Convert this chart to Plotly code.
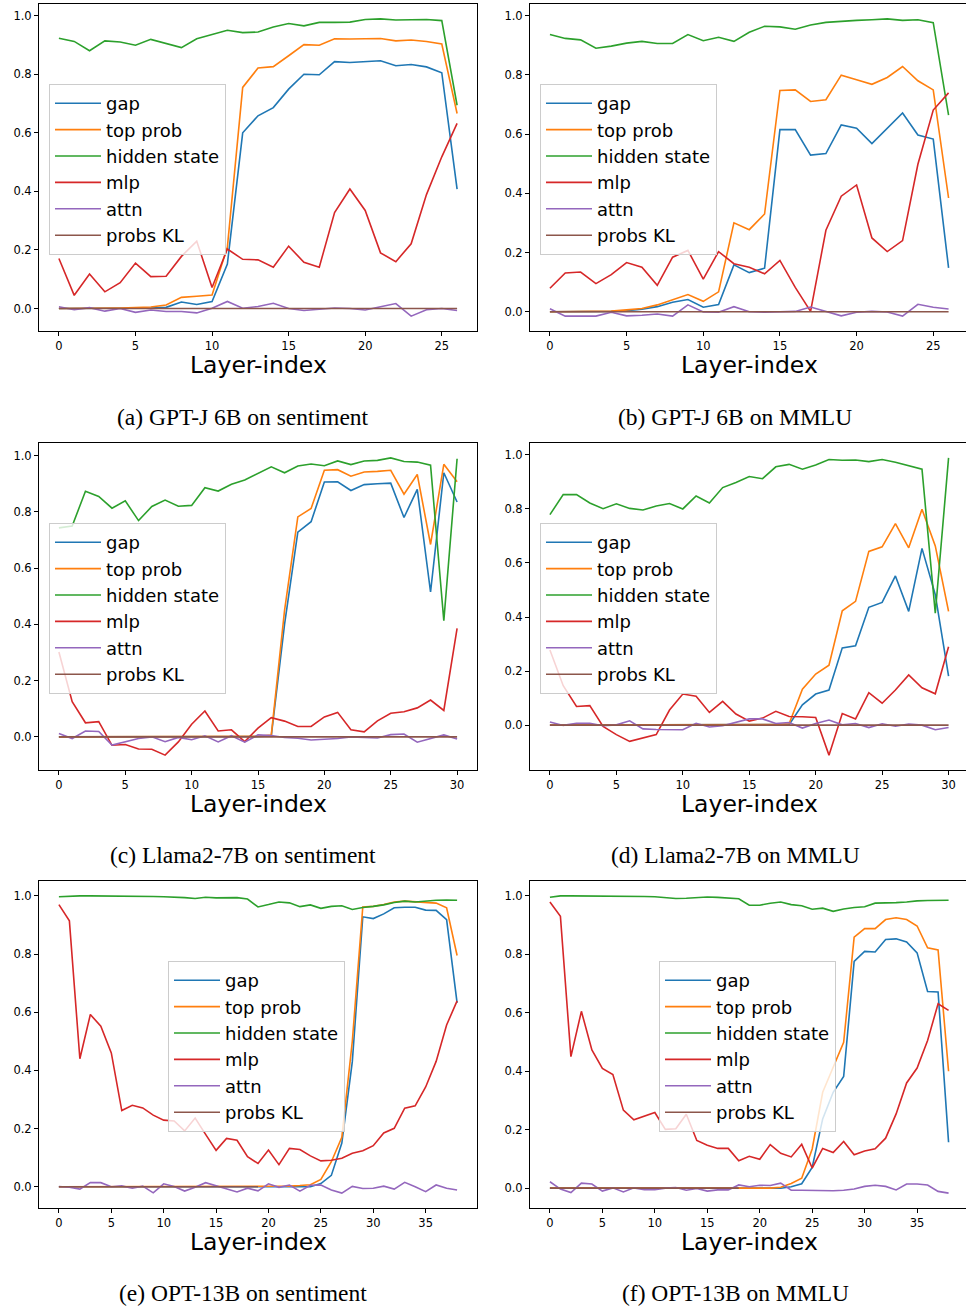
import plotly.graph_objects as go

# ---------------- data ----------------
series_names = ["gap", "top prob", "hidden state", "mlp", "attn", "probs KL"]
series_colors = ["#1f77b4", "#ff7f0e", "#2ca02c", "#d62728", "#9467bd", "#8c564b"]
captions = ["(a) GPT-J 6B on sentiment", "(b) GPT-J 6B on MMLU",
            "(c) Llama2-7B on sentiment", "(d) Llama2-7B on MMLU",
            "(e) OPT-13B on sentiment", "(f) OPT-13B on MMLU"]
x_label = "Layer-index"

# (a) GPT-J 6B on sentiment, layers 0..26
a_gap = [0.0, 0.0, 0.0, 0.0, 0.0, 0.001, 0.002, 0.004, 0.022, 0.014, 0.024, 0.152, 0.600, 0.658, 0.686,
         0.749, 0.800, 0.798, 0.843, 0.840, 0.842, 0.846, 0.829, 0.833, 0.825, 0.805, 0.408]
a_top = [0.0, 0.0, 0.0, 0.001, 0.002, 0.003, 0.005, 0.012, 0.038, 0.042, 0.046, 0.21, 0.755, 0.821, 0.826,
         0.863, 0.901, 0.899, 0.921, 0.920, 0.921, 0.922, 0.914, 0.917, 0.912, 0.903, 0.666]
a_hidden = [0.923, 0.912, 0.880, 0.914, 0.910, 0.899, 0.919, 0.906, 0.891, 0.921, 0.936, 0.950, 0.942, 0.944,
            0.961, 0.973, 0.965, 0.977, 0.977, 0.978, 0.987, 0.989, 0.985, 0.986, 0.987, 0.983, 0.694]
a_mlp = [0.171, 0.045, 0.118, 0.057, 0.088, 0.155, 0.109, 0.110, 0.178, 0.230, 0.072, 0.203, 0.168, 0.166,
         0.141, 0.213, 0.158, 0.141, 0.328, 0.408, 0.335, 0.190, 0.160, 0.221, 0.389, 0.518, 0.632]
a_attn = [0.006, -0.004, 0.003, -0.009, 0.0, -0.013, -0.005, -0.010, -0.010, -0.015, 0.001, 0.024, 0.001,
          0.007, 0.018, 0.0, -0.007, -0.003, 0.002, 0.0, -0.005, 0.006, 0.017, -0.026, -0.004, 0.0, -0.007]
a_kl = [0.0, 0.0, 0.0, 0.0, 0.0, 0.0, 0.0, 0.0, 0.0, 0.0, 0.0, 0.0, 0.0, 0.0,
        0.0, 0.0, 0.0, 0.0, 0.0, 0.0, 0.0, 0.0, 0.0, 0.0, 0.0, 0.0, 0.0]

# (b) GPT-J 6B on MMLU, layers 0..26
b_gap = [0.0, 0.0, 0.0, 0.0, 0.001, 0.003, 0.008, 0.017, 0.032, 0.041, 0.015, 0.024, 0.158, 0.132, 0.147,
         0.615, 0.615, 0.529, 0.534, 0.631, 0.620, 0.568, 0.619, 0.671, 0.597, 0.583, 0.148]
b_top = [0.0, 0.0, 0.0, 0.0, 0.002, 0.006, 0.011, 0.023, 0.041, 0.058, 0.035, 0.067, 0.300, 0.277, 0.330,
         0.747, 0.749, 0.710, 0.716, 0.799, 0.783, 0.768, 0.791, 0.828, 0.780, 0.749, 0.384]
b_hidden = [0.936, 0.923, 0.918, 0.890, 0.897, 0.907, 0.913, 0.906, 0.906, 0.936, 0.915, 0.927, 0.913, 0.944,
            0.964, 0.962, 0.954, 0.968, 0.977, 0.981, 0.984, 0.986, 0.989, 0.984, 0.986, 0.976, 0.664]
b_mlp = [0.079, 0.131, 0.134, 0.095, 0.125, 0.166, 0.150, 0.089, 0.184, 0.207, 0.110, 0.203, 0.162, 0.150,
         0.128, 0.173, 0.082, 0.001, 0.275, 0.390, 0.428, 0.249, 0.203, 0.240, 0.498, 0.681, 0.739]
b_attn = [0.010, -0.015, -0.015, -0.015, -0.002, -0.014, -0.012, -0.008, -0.015, 0.023, -0.001, -0.002,
          0.017, 0.0, -0.002, -0.001, 0.001, 0.016, 0.001, -0.014, -0.002, 0.001, -0.001, -0.015, 0.025,
          0.015, 0.009]
b_kl = [0.0, 0.0, 0.0, 0.0, 0.0, 0.0, 0.0, 0.0, 0.0, 0.0, 0.0, 0.0, 0.0, 0.0,
        0.0, 0.0, 0.0, 0.0, 0.0, 0.0, 0.0, 0.0, 0.0, 0.0, 0.0, 0.0, 0.0]

# (c) Llama2-7B on sentiment, layers 0..30
c_gap = [0.0, 0.0, 0.0, 0.0, 0.0, 0.0, 0.0, 0.0, 0.0, 0.0, 0.0, 0.0, 0.0, 0.0, 0.0, 0.001, 0.003, 0.40,
         0.728, 0.765, 0.906, 0.907, 0.876, 0.897, 0.900, 0.902, 0.780, 0.880, 0.515, 0.939, 0.835]
c_top = [0.0, 0.0, 0.0, 0.0, 0.0, 0.0, 0.0, 0.0, 0.0, 0.0, 0.0, 0.0, 0.0, 0.0, 0.0, 0.002, 0.006, 0.45,
         0.782, 0.812, 0.948, 0.950, 0.927, 0.942, 0.944, 0.948, 0.863, 0.933, 0.684, 0.969, 0.907]
c_hidden = [0.743, 0.750, 0.873, 0.855, 0.813, 0.839, 0.769, 0.819, 0.842, 0.820, 0.823, 0.886, 0.874, 0.898,
            0.913, 0.938, 0.960, 0.939, 0.963, 0.970, 0.964, 0.981, 0.968, 0.981, 0.983, 0.992, 0.979, 0.977,
            0.966, 0.413, 0.989]
c_mlp = [0.302, 0.125, 0.050, 0.054, -0.030, -0.027, -0.043, -0.044, -0.065, -0.018, 0.045, 0.092, 0.021,
         0.025, -0.017, 0.031, 0.068, 0.056, 0.037, 0.037, 0.071, 0.087, 0.025, 0.018, 0.057, 0.084, 0.089,
         0.103, 0.131, 0.094, 0.386]
c_attn = [0.012, -0.006, 0.021, 0.019, -0.029, -0.017, -0.006, 0.0, -0.017, -0.002, -0.010, 0.004, -0.018,
          0.004, -0.019, 0.007, 0.005, -0.002, -0.005, -0.011, -0.008, -0.006, 0.0, -0.001, -0.004, 0.008,
          0.010, -0.019, -0.006, 0.007, -0.008]
c_kl = [0.0, 0.0, 0.0, 0.0, 0.0, 0.0, 0.0, 0.0, 0.0, 0.0, 0.0, 0.0, 0.0, 0.0, 0.0, 0.0,
        0.0, 0.0, 0.0, 0.0, 0.0, 0.0, 0.0, 0.0, 0.0, 0.0, 0.0, 0.0, 0.0, 0.0, 0.0]

# (d) Llama2-7B on MMLU, layers 0..30
d_gap = [0.0, 0.0, 0.0, 0.0, 0.0, 0.0, 0.0, 0.0, 0.0, 0.0, 0.0, 0.0, 0.0, 0.0, 0.0, 0.0, 0.0, 0.0,
         0.002, 0.075, 0.115, 0.130, 0.286, 0.294, 0.436, 0.454, 0.552, 0.421, 0.654, 0.483, 0.181]
d_top = [0.0, 0.0, 0.0, 0.0, 0.0, 0.0, 0.0, 0.0, 0.0, 0.0, 0.0, 0.0, 0.0, 0.0, 0.0, 0.0, 0.0, 0.002,
         0.005, 0.133, 0.189, 0.222, 0.423, 0.458, 0.643, 0.660, 0.746, 0.656, 0.799, 0.663, 0.421]
d_hidden = [0.779, 0.853, 0.853, 0.822, 0.801, 0.819, 0.802, 0.796, 0.811, 0.820, 0.800, 0.848, 0.822, 0.879,
            0.898, 0.920, 0.912, 0.956, 0.965, 0.947, 0.963, 0.983, 0.980, 0.981, 0.975, 0.983, 0.973, 0.959,
            0.947, 0.414, 0.989]
d_mlp = [0.278, 0.146, 0.069, 0.072, -0.005, -0.035, -0.060, -0.048, -0.035, 0.056, 0.115, 0.107, 0.047,
         0.088, 0.041, 0.015, 0.026, 0.051, 0.032, 0.031, 0.028, -0.111, 0.043, 0.023, 0.120, 0.081, 0.130,
         0.186, 0.138, 0.116, 0.290]
d_attn = [0.012, -0.001, 0.007, 0.007, -0.002, 0.001, 0.016, -0.014, -0.016, -0.016, -0.017, 0.007, -0.007,
          -0.002, 0.010, 0.023, 0.023, 0.006, 0.010, -0.011, 0.006, 0.019, 0.001, 0.006, -0.009, 0.005,
          -0.004, 0.004, 0.0, -0.017, -0.009]
d_kl = [0.0, 0.0, 0.0, 0.0, 0.0, 0.0, 0.0, 0.0, 0.0, 0.0, 0.0, 0.0, 0.0, 0.0, 0.0, 0.0,
        0.0, 0.0, 0.0, 0.0, 0.0, 0.0, 0.0, 0.0, 0.0, 0.0, 0.0, 0.0, 0.0, 0.0, 0.0]

# (e) OPT-13B on sentiment, layers 0..38
e_gap = [0.0, 0.0, 0.0, 0.0, 0.0, 0.0, 0.0, 0.0, 0.0, 0.0, 0.0, 0.0, 0.0, 0.0, 0.0, 0.0, 0.0, 0.0, 0.0,
         0.0, 0.0, 0.0, 0.0, 0.0, 0.0, 0.011, 0.039, 0.15, 0.43, 0.928, 0.922, 0.938, 0.959, 0.961, 0.961,
         0.951, 0.950, 0.918, 0.632]
e_top = [0.0, 0.0, 0.0, 0.0, 0.0, 0.0, 0.0, 0.0, 0.0, 0.0, 0.0, 0.0, 0.0, 0.0, 0.0, 0.0, 0.0, 0.0, 0.0,
         0.0, 0.0, 0.0, 0.002, 0.004, 0.007, 0.025, 0.086, 0.17, 0.50, 0.962, 0.964, 0.970, 0.979, 0.982,
         0.979, 0.976, 0.975, 0.959, 0.795]
e_hidden = [0.997, 0.999, 1.0, 1.0, 1.0, 1.0, 0.999, 0.999, 0.998, 0.998, 0.997, 0.996, 0.994, 0.991, 0.995,
            0.993, 0.994, 0.994, 0.989, 0.962, 0.970, 0.979, 0.976, 0.963, 0.969, 0.957, 0.964, 0.966, 0.953,
            0.960, 0.964, 0.969, 0.977, 0.982, 0.979, 0.983, 0.985, 0.986, 0.985]
e_mlp = [0.970, 0.914, 0.440, 0.592, 0.552, 0.460, 0.262, 0.280, 0.271, 0.246, 0.229, 0.226, 0.192, 0.236,
         0.180, 0.125, 0.166, 0.160, 0.103, 0.080, 0.126, 0.076, 0.132, 0.128, 0.106, 0.089, 0.091, 0.098,
         0.115, 0.124, 0.141, 0.185, 0.201, 0.270, 0.278, 0.343, 0.431, 0.556, 0.639]
e_attn = [0.001, -0.002, -0.008, 0.014, 0.014, 0.0, 0.003, -0.005, 0.002, -0.021, 0.010, 0.001, -0.015,
          -0.002, 0.014, 0.003, -0.008, -0.018, -0.005, -0.014, 0.010, -0.002, 0.006, -0.015, 0.005, 0.006,
          -0.011, -0.022, 0.001, -0.006, -0.005, 0.002, -0.008, 0.015, 0.0, -0.017, 0.006, -0.005, -0.011]
e_kl = [0.0, 0.0, 0.0, 0.0, 0.0, 0.0, 0.0, 0.0, 0.0, 0.0, 0.0, 0.0, 0.0, 0.0, 0.0, 0.0, 0.0, 0.0, 0.0,
        0.0, None, None, None, None, None, None, None, None, None, None, None, None, None, None, None,
        None, None, None, None]

# (f) OPT-13B on MMLU, layers 0..38
f_gap = [0.0, 0.0, 0.0, 0.0, 0.0, 0.0, 0.0, 0.0, 0.0, 0.0, 0.0, 0.0, 0.0, 0.0, 0.0, 0.0, 0.0, 0.0, 0.0,
         0.0, 0.0, 0.0, 0.0, 0.005, 0.015, 0.071, 0.237, 0.328, 0.382, 0.776, 0.810, 0.808, 0.851, 0.853,
         0.842, 0.805, 0.673, 0.671, 0.157]
f_top = [0.0, 0.0, 0.0, 0.0, 0.0, 0.0, 0.0, 0.0, 0.0, 0.0, 0.0, 0.0, 0.0, 0.0, 0.0, 0.0, 0.0, 0.0, 0.0,
         0.0, 0.0, 0.0, 0.003, 0.016, 0.034, 0.134, 0.328, 0.414, 0.499, 0.859, 0.888, 0.888, 0.919, 0.925,
         0.919, 0.897, 0.822, 0.815, 0.400]
f_hidden = [0.995, 1.0, 1.0, 1.0, 1.0, 0.999, 0.999, 0.999, 0.998, 0.998, 0.997, 0.994, 0.991, 0.992, 0.995,
            0.996, 0.995, 0.993, 0.990, 0.968, 0.968, 0.975, 0.979, 0.970, 0.966, 0.954, 0.958, 0.947, 0.955,
            0.960, 0.963, 0.975, 0.975, 0.977, 0.979, 0.983, 0.984, 0.985, 0.985]
f_mlp = [0.979, 0.930, 0.450, 0.605, 0.473, 0.410, 0.389, 0.267, 0.234, 0.246, 0.259, 0.201, 0.203, 0.253,
         0.163, 0.147, 0.136, 0.136, 0.094, 0.109, 0.099, 0.149, 0.119, 0.107, 0.150, 0.069, 0.136, 0.122,
         0.160, 0.114, 0.127, 0.135, 0.171, 0.254, 0.360, 0.411, 0.505, 0.631, 0.608]
f_attn = [0.022, -0.003, -0.015, 0.017, 0.014, -0.010, 0.001, -0.013, 0.001, -0.005, -0.005, 0.0, 0.002,
          -0.007, -0.001, -0.010, -0.006, -0.006, 0.011, 0.005, 0.010, 0.009, 0.017, -0.007, -0.007, -0.008,
          -0.010, -0.009, -0.007, -0.003, 0.006, 0.010, 0.006, -0.006, 0.014, 0.014, 0.011, -0.011, -0.017]
f_kl = [0.0, 0.0, 0.0, 0.0, 0.0, 0.0, 0.0, 0.0, 0.0, 0.0, 0.0, 0.0, 0.0, 0.0, 0.0, 0.0, 0.0, 0.0, 0.0,
        None, None, None, None, None, None, None, None, None, None, None, None, None, None, None, None,
        None, None, None, None]

panels = [
    [a_gap, a_top, a_hidden, a_mlp, a_attn, a_kl],
    [b_gap, b_top, b_hidden, b_mlp, b_attn, b_kl],
    [c_gap, c_top, c_hidden, c_mlp, c_attn, c_kl],
    [d_gap, d_top, d_hidden, d_mlp, d_attn, d_kl],
    [e_gap, e_top, e_hidden, e_mlp, e_attn, e_kl],
    [f_gap, f_top, f_hidden, f_mlp, f_attn, f_kl],
]

# ---------------- layout (pixel geometry) ----------------
W, H = 966, 1310
col_px = [(39, 477), (530, 966)]
row_px = [(4, 331), (443, 770), (881, 1208)]
legend_px = [(49, 84), (540, 84), (49, 523), (540, 523), (168, 961), (659, 961)]
xlabel_px = [(258, 365), (749, 365), (258, 804), (749, 804), (258, 1242), (749, 1242)]
caption_px = [(243, 417), (735, 417), (243, 855), (735, 855), (243, 1293), (735, 1293)]

TICK_FONT = dict(family="DejaVu Sans", size=11.5, color="black")

fig = go.Figure()
layout = dict(
    width=W, height=H, margin=dict(l=0, r=0, t=0, b=0),
    paper_bgcolor="white", plot_bgcolor="white", showlegend=True,
)
annotations = []

for p, series in enumerate(panels):
    r, c = divmod(p, 2)
    idx = "" if p == 0 else str(p + 1)
    xa, ya = "x" + idx, "y" + idx
    leg = "legend" + idx
    n = len(series[0])
    xs = list(range(n))

    for name, color, ys in zip(series_names, series_colors, series):
        fig.add_trace(go.Scatter(
            x=xs, y=ys, mode="lines", name=name, xaxis=xa, yaxis=ya, legend=leg,
            line=dict(color=color, width=1.6), hoverinfo="skip",
        ))

    # axis ranges like matplotlib autoscale (5% margins)
    vals = [v for s in series for v in s if v is not None]
    lo, hi = min(vals), max(vals)
    pad = 0.05 * (hi - lo)
    xpad = 0.05 * (n - 1)
    x0px, x1px = col_px[c]
    xr_hi = n - 1 + xpad
    if c == 1:
        # right column is clipped at the page edge
        step = (968.5 - x0px) / (n - 1 + 2 * xpad)
        xr_hi = -xpad + (x1px - x0px) / step
    y0px, y1px = row_px[r]

    layout["xaxis" + idx] = dict(
        domain=[x0px / W, x1px / W], anchor=ya, range=[-xpad, xr_hi],
        tickmode="linear", tick0=0, dtick=5, ticks="outside", ticklen=4, tickwidth=1,
        tickcolor="black", showline=True, linecolor="black", linewidth=1, mirror=True,
        showgrid=False, zeroline=False, tickfont=TICK_FONT,
    )
    layout["yaxis" + idx] = dict(
        domain=[1 - y1px / H, 1 - y0px / H], anchor=xa, range=[lo - pad, hi + pad],
        tickmode="linear", tick0=0, dtick=0.2, tickformat=".1f", ticks="outside", ticklen=4,
        tickwidth=1, tickcolor="black", showline=True, linecolor="black", linewidth=1,
        mirror=(c == 0), showgrid=False, zeroline=False, tickfont=TICK_FONT,
    )
    lx, ly = legend_px[p]
    layout[leg] = dict(
        x=lx / W, y=1 - ly / H, xanchor="left", yanchor="top",
        bgcolor="rgba(255,255,255,0.8)", bordercolor="#cccccc", borderwidth=1,
        itemwidth=46,
        font=dict(family="DejaVu Sans", size=18, color="black"),
    )
    tx, ty = xlabel_px[p]
    annotations.append(dict(
        text=x_label, x=tx / W, y=1 - ty / H, xref="paper", yref="paper",
        xanchor="center", yanchor="middle", showarrow=False,
        font=dict(family="DejaVu Sans", size=23.5, color="black"),
    ))
    cx, cy = caption_px[p]
    annotations.append(dict(
        text=captions[p], x=cx / W, y=1 - cy / H, xref="paper", yref="paper",
        xanchor="center", yanchor="middle", showarrow=False,
        font=dict(family="Liberation Serif", size=23.5, color="black"),
    ))

layout["annotations"] = annotations
fig.update_layout(**layout)
fig.write_html(
    "out.html",
    config={"displayModeBar": False},
    post_script="document.body.style.margin='0px';document.body.style.overflow='hidden';",
)
